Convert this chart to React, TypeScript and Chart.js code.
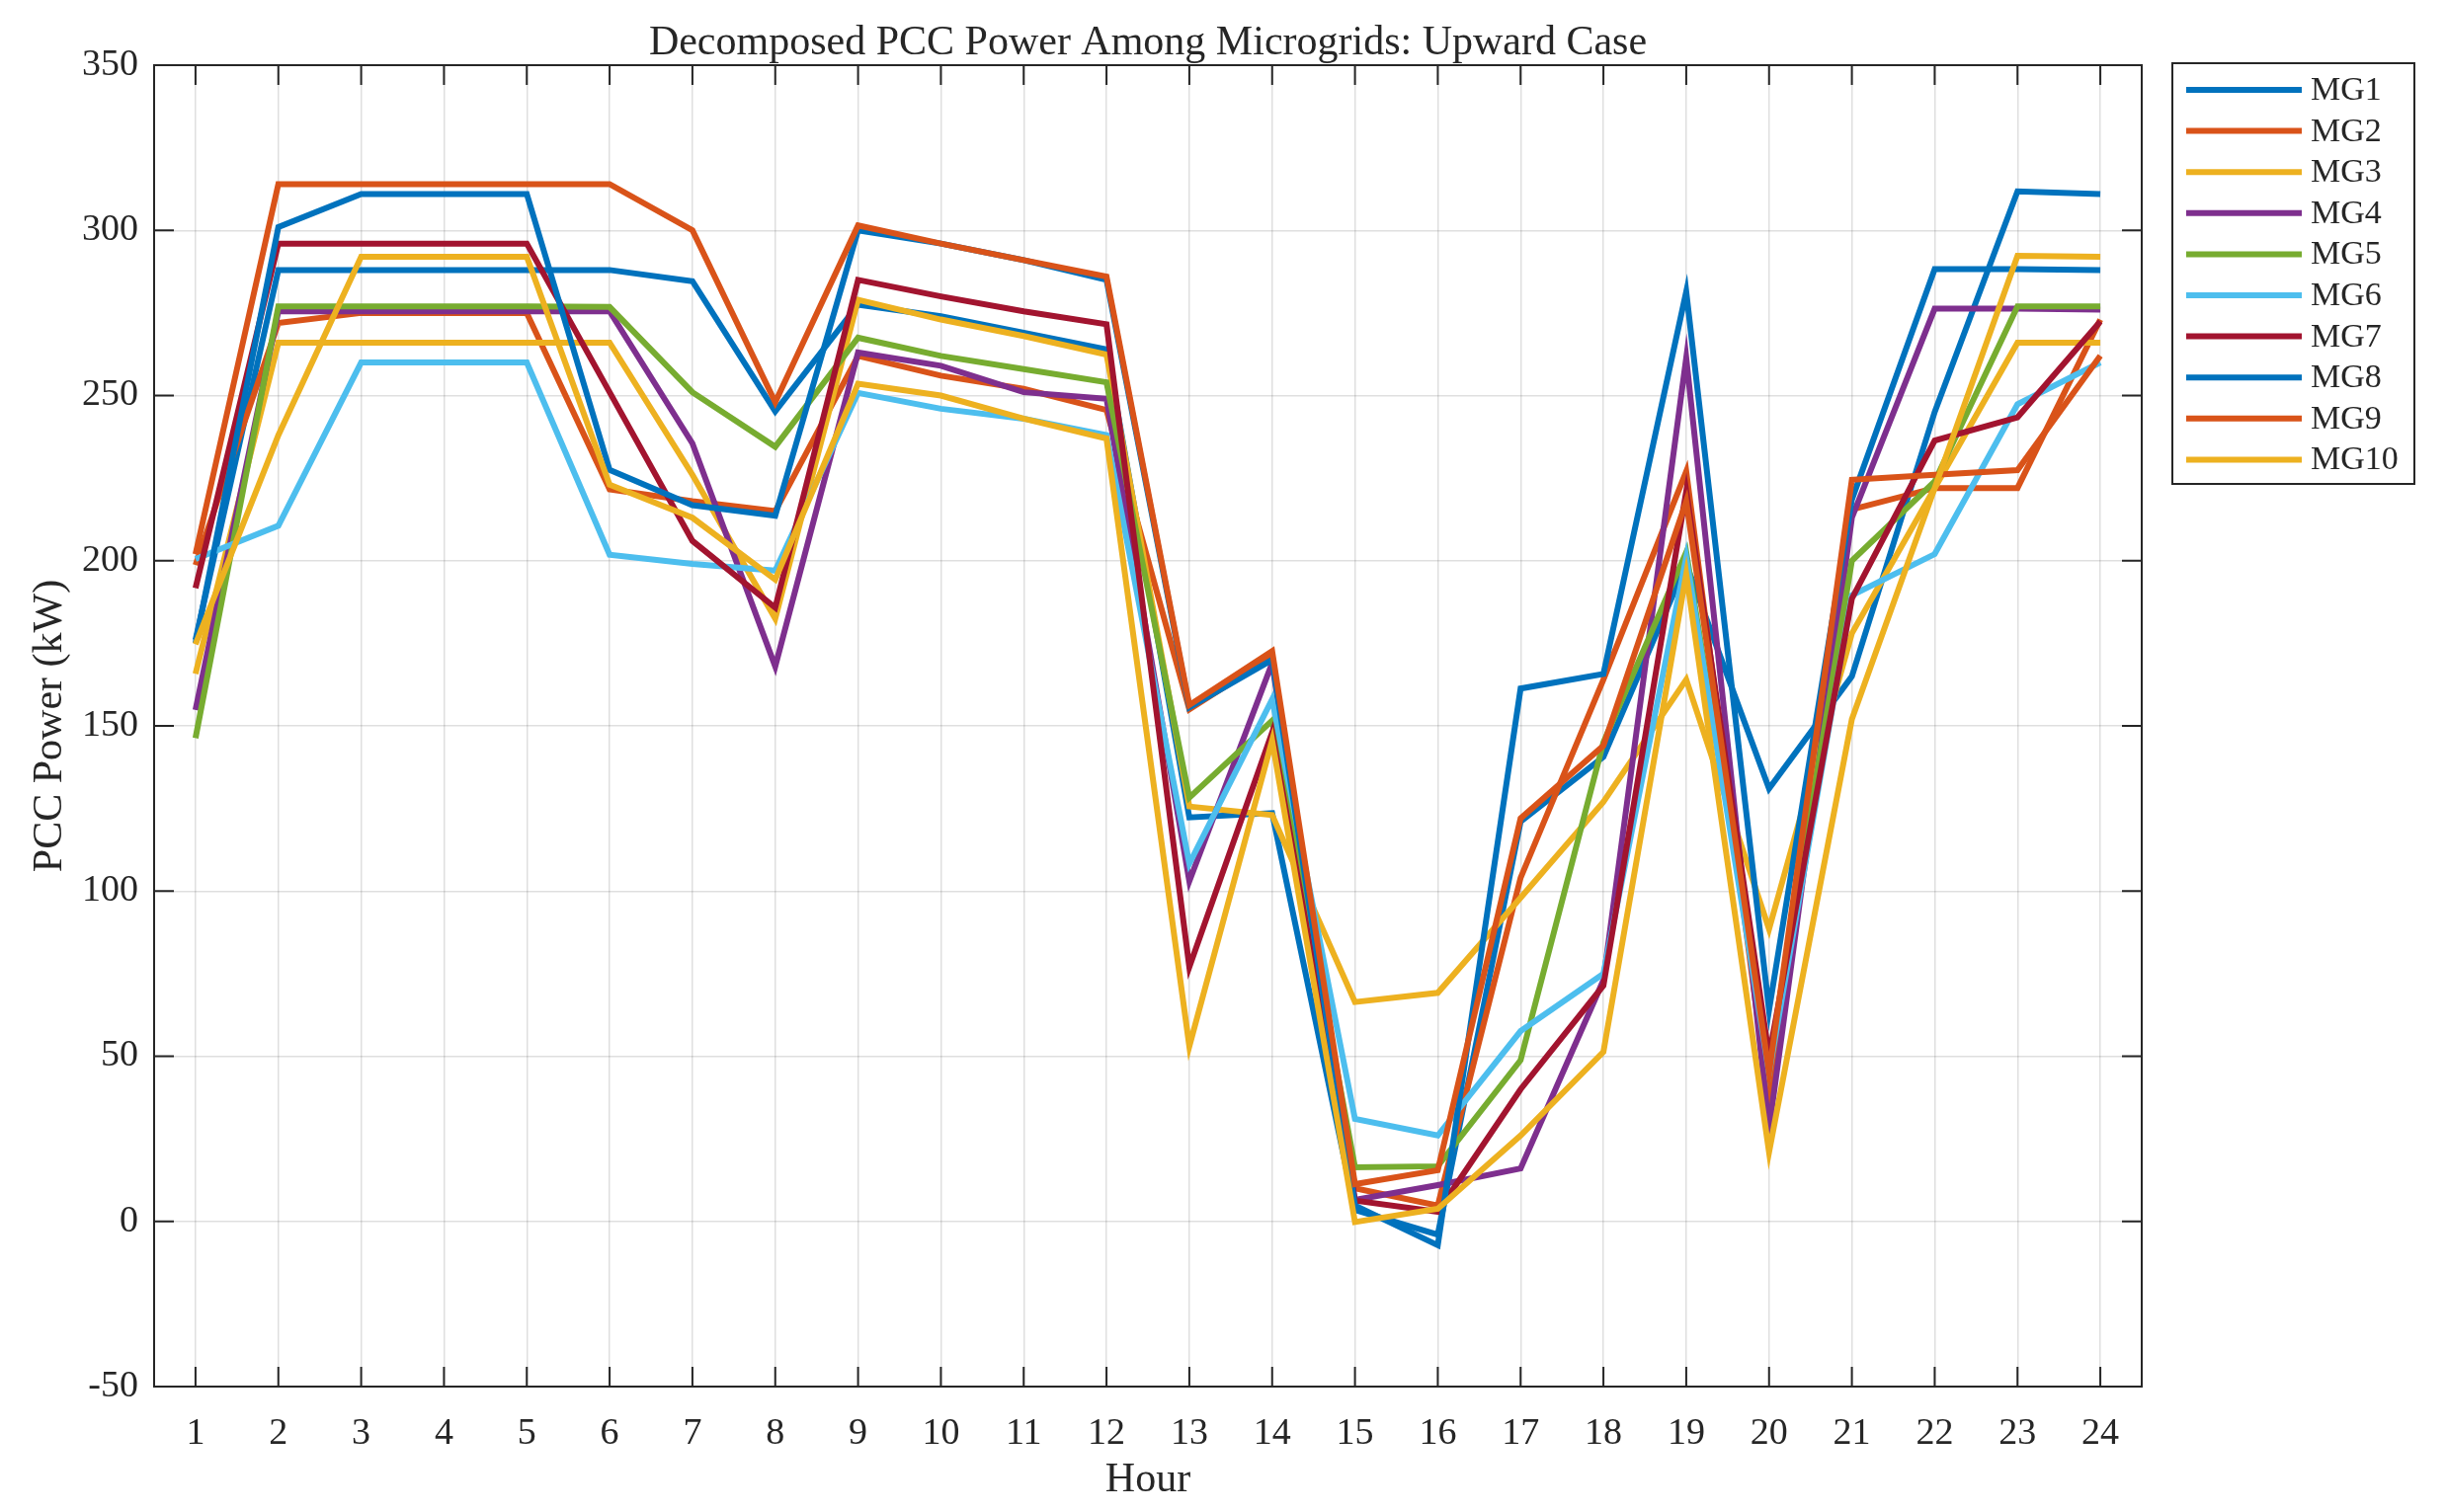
import { useEffect, useRef } from "react";
import { Chart, registerables } from "chart.js";

Chart.register(...registerables);

// ─── Data ─────────────────────────────────────────────────────────────────────
const hours = [1, 2, 3, 4, 5, 6, 7, 8, 9, 10, 11, 12, 13, 14, 15, 16, 17, 18, 19, 20, 21, 22, 23, 24];
const yTicks = [-50, 0, 50, 100, 150, 200, 250, 300, 350];

const mg1 = [176, 288, 288, 288, 288, 288, 284.6, 245.2, 277.5, 274, 269, 264, 122.3, 123.6, 3.5, -4, 121, 140.6, 199, 131, 165, 245, 311.8, 311];
const mg2 = [198.7, 272, 275, 275, 275, 221.6, 218, 215, 262, 256, 252, 245.6, 155, 171, 10, 4.8, 104, 164, 227, 35, 215.5, 222, 222, 273];
const mg3 = [165.8, 266, 266, 266, 266, 266, 226, 182.5, 279, 273, 268, 262.4, 125.6, 123, 66.4, 69.2, 98, 127, 164, 88.5, 178, 222, 266, 266];
const mg4 = [154.8, 275.5, 275.5, 275.5, 275.5, 275.5, 235.5, 168, 263, 259, 251, 249, 103, 169, 6.5, 11, 16, 73, 261.4, 28, 213, 276.3, 276.3, 276];
const mg5 = [146.3, 277, 277, 277, 277, 276.8, 251, 234.5, 267.5, 262, 258, 254, 128.3, 151.6, 16.4, 16.7, 48.8, 145, 202.6, 47, 200, 224, 277, 277];
const mg6 = [200.5, 210.6, 260, 260, 260, 201.8, 199, 197, 250.8, 246, 243, 238, 108.3, 158, 31, 26, 57.6, 75, 201, 45, 189.5, 202, 247.4, 260];
const mg7 = [191.7, 296, 296, 296, 296, 251, 206, 185.8, 285, 280, 275.5, 271.6, 77, 148, 6.3, 2.9, 40, 71.4, 221, 50, 188.5, 236.4, 243.4, 272.4];
const mg8 = [175, 301, 311, 311, 311, 227.5, 216.8, 213.6, 300, 296, 291, 285, 155.6, 170, 4.8, -7.2, 161.3, 165.7, 281.4, 64, 218.5, 288.3, 288.3, 288];
const mg9 = [202, 314, 314, 314, 314, 314, 300, 248, 301.5, 296, 291, 286, 156.3, 172.6, 11.3, 15.5, 122, 144, 218, 45, 224.5, 226, 227.4, 262];
const mg10 = [174.7, 238, 292, 292, 292, 223, 213, 194.3, 253.6, 250, 243, 237, 53, 145.6, -0.2, 3.8, 26, 51.3, 196, 21, 152, 222, 292.3, 292];

const seriesNames = ["MG1", "MG2", "MG3", "MG4", "MG5", "MG6", "MG7", "MG8", "MG9", "MG10"];
const seriesValues = [mg1, mg2, mg3, mg4, mg5, mg6, mg7, mg8, mg9, mg10];
const seriesColors = ["#0072BD", "#D95319", "#EDB120", "#7E2F8E", "#77AC30", "#4DBEEE", "#A2142F", "#0072BD", "#D95319", "#EDB120"];

// ─── Style ────────────────────────────────────────────────────────────────────
const FONT = "'Liberation Serif', 'Times New Roman', serif";
const INK = "#262626";
const LINE_W = 6;
const TICK_LEN = 20;

// axes box, inner ticks, titles and the boxed legend, MATLAB style
const framePlugin = {
  id: "frame",
  afterDraw(chart: any) {
    const { ctx, chartArea: a, scales } = chart;
    ctx.save();
    ctx.strokeStyle = INK;
    ctx.lineWidth = 2;
    ctx.beginPath();
    for (const h of hours) {
      const x = scales.x.getPixelForValue(h);
      ctx.moveTo(x, a.bottom); ctx.lineTo(x, a.bottom - TICK_LEN);
      ctx.moveTo(x, a.top);    ctx.lineTo(x, a.top + TICK_LEN);
    }
    for (const v of yTicks) {
      const y = scales.y.getPixelForValue(v);
      ctx.moveTo(a.left, y);  ctx.lineTo(a.left + TICK_LEN, y);
      ctx.moveTo(a.right, y); ctx.lineTo(a.right - TICK_LEN, y);
    }
    ctx.stroke();
    ctx.strokeRect(a.left, a.top, a.right - a.left, a.bottom - a.top);

    const cx = (a.left + a.right) / 2;
    ctx.fillStyle = INK;
    ctx.textAlign = "center";
    ctx.textBaseline = "alphabetic";
    ctx.font = `42px ${FONT}`;
    ctx.fillText("Decomposed PCC Power Among Microgrids: Upward Case", cx, a.top - 11);
    ctx.fillText("Hour", cx, a.bottom + 106);

    ctx.save();
    ctx.translate(a.left - 105, (a.top + a.bottom) / 2);
    ctx.rotate(-Math.PI / 2);
    ctx.textBaseline = "middle";
    ctx.fillText("PCC Power (kW)", 0, 0);
    ctx.restore();

    // legend
    const lx = a.right + 31;
    const ly = a.top - 2;
    const lw = 245;
    const lh = 426;
    ctx.fillStyle = "#FFFFFF";
    ctx.fillRect(lx, ly, lw, lh);
    ctx.strokeStyle = INK;
    ctx.lineWidth = 2;
    ctx.strokeRect(lx, ly, lw, lh);
    ctx.font = `34px ${FONT}`;
    ctx.textAlign = "left";
    ctx.textBaseline = "middle";
    chart.data.datasets.forEach((ds: any, i: number) => {
      const y = ly + 27 + i * 41.6;
      ctx.strokeStyle = ds.borderColor;
      ctx.lineWidth = 6;
      ctx.beginPath();
      ctx.moveTo(lx + 14, y);
      ctx.lineTo(lx + 131, y);
      ctx.stroke();
      ctx.fillStyle = INK;
      ctx.fillText(ds.label, lx + 140, y + 1);
    });
    ctx.restore();
  },
};

// ─── Component ────────────────────────────────────────────────────────────────
export default function App() {
  const canvasRef = useRef<HTMLCanvasElement | null>(null);
  const chartRef = useRef<any>(null);

  useEffect(() => {
    if (!canvasRef.current) return;
    if (chartRef.current) chartRef.current.destroy();

    chartRef.current = new Chart(canvasRef.current, {
      type: "line",
      data: {
        datasets: seriesNames.map((name, i) => ({
          label: name,
          data: hours.map((h, j) => ({ x: h, y: seriesValues[i][j] })),
          borderColor: seriesColors[i],
          backgroundColor: seriesColors[i],
          borderWidth: LINE_W,
          pointRadius: 0,
          tension: 0,
          fill: false,
          order: seriesNames.length - i, // later series on top
        })),
      },
      options: {
        responsive: true,
        maintainAspectRatio: false,
        animation: false,
        layout: { padding: { top: 66, left: 0, right: 308, bottom: 0 } },
        plugins: {
          legend: { display: false },
          title: { display: false },
          tooltip: { enabled: false },
        },
        scales: {
          x: {
            type: "linear",
            min: 0.5,
            max: 24.5,
            afterBuildTicks: (s: any) => { s.ticks = hours.map((v) => ({ value: v })); },
            afterFit: (s: any) => { s.height = 127; },
            grid: { color: "rgba(38,38,38,0.15)", lineWidth: 1.5, drawTicks: false },
            border: { display: false },
            ticks: {
              autoSkip: false,
              maxRotation: 0,
              padding: 25,
              color: INK,
              font: { family: FONT, size: 38 },
            },
          },
          y: {
            min: -50,
            max: 350,
            afterBuildTicks: (s: any) => { s.ticks = yTicks.map((v) => ({ value: v })); },
            afterFit: (s: any) => { s.width = 156; },
            grid: { color: "rgba(38,38,38,0.15)", lineWidth: 1.5, drawTicks: false },
            border: { display: false },
            ticks: {
              padding: 16,
              color: INK,
              font: { family: FONT, size: 38 },
            },
          },
        },
      },
      plugins: [framePlugin],
    });

    return () => { if (chartRef.current) chartRef.current.destroy(); };
  }, []);

  return (
    <>
      <style>{`body { margin: 0; background: #FFFFFF; }`}</style>
      <div style={{ position: "relative", width: 2476, height: 1531 }}>
        <canvas ref={canvasRef} />
      </div>
    </>
  );
}
